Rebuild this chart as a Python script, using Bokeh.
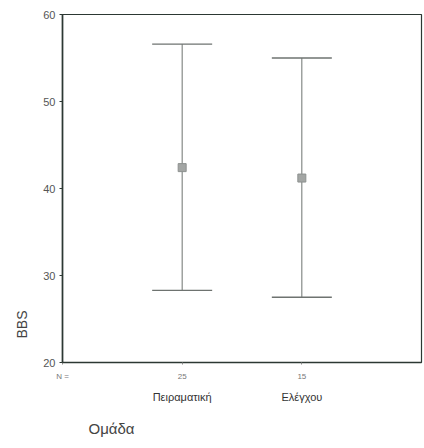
from bokeh.plotting import figure
from bokeh.models import (ColumnDataSource, Whisker, TeeHead, FixedTicker, LinearAxis,
                          Title, Range1d)
from bokeh.embed import file_html
from bokeh.resources import INLINE

# Data
groups = ["Πειραματική", "Ελέγχου"]
group_pos = [1, 2]
n_counts = ["25", "15"]
means = [42.4, 41.2]
lower = [28.3, 27.5]
upper = [56.6, 55.0]
y_ticks = [20, 30, 40, 50, 60]

FONT = "Liberation Sans"
LINE = "#6e7370"
DARK = "#2c3833"

p = figure(width=424, height=448, output_backend="svg", toolbar_location=None,
           x_range=Range1d(0, 3), y_range=Range1d(20, 60),
           min_border_left=62, min_border_right=3, min_border_top=14, min_border_bottom=86)
p.grid.visible = False
p.background_fill_color = "white"
p.border_fill_color = "white"
p.outline_line_color = DARK
p.outline_line_width = 1.2

src = ColumnDataSource(dict(x=group_pos, mean=means, lo=lower, hi=upper))

w = Whisker(base="x", lower="lo", upper="hi", source=src, dimension="height",
            line_color=LINE, line_width=1,
            upper_head=TeeHead(size=60, line_color=LINE, line_width=1.3),
            lower_head=TeeHead(size=60, line_color=LINE, line_width=1.3))
p.add_layout(w)

p.scatter(x="x", y="mean", source=src, marker="square", size=8,
          fill_color="#a3a6a4", line_color="#8d918f", line_width=1)

# y axis
yax = p.yaxis[0]
yax.ticker = FixedTicker(ticks=y_ticks)
yax.axis_line_color = DARK
yax.axis_line_width = 1.6
yax.major_tick_line_color = DARK
yax.major_tick_out = 3
yax.major_tick_in = 0
yax.minor_tick_line_color = None
yax.major_label_text_font = FONT
yax.major_label_text_font_size = "11px"
yax.major_label_text_color = "#555555"
yax.major_label_standoff = 4

# x axis: N row
xax = p.xaxis[0]
xax.ticker = FixedTicker(ticks=[0] + group_pos)
xax.major_label_overrides = {0: "N =", 1: n_counts[0], 2: n_counts[1]}
xax.axis_line_color = DARK
xax.axis_line_width = 1.4
xax.major_tick_line_color = "#888888"
xax.major_tick_out = 2
xax.major_tick_in = 0
xax.minor_tick_line_color = None
xax.major_label_text_font = FONT
xax.major_label_text_font_size = "8px"
xax.major_label_text_color = "#777777"
xax.major_label_standoff = 7

# second x axis: group names
xax2 = LinearAxis(ticker=FixedTicker(ticks=group_pos),
                  major_label_overrides={group_pos[i]: groups[i] for i in range(2)})
xax2.axis_line_color = None
xax2.major_tick_line_color = None
xax2.minor_tick_line_color = None
xax2.major_label_text_font = FONT
xax2.major_label_text_font_size = "11px"
xax2.major_label_text_color = "#333333"
xax2.major_label_standoff = 1
p.add_layout(xax2, "below")

# axis titles
p.add_layout(Title(text="BBS", align="left", offset=24, text_font=FONT,
                   text_font_size="14px", text_color="#444444",
                   text_font_style="normal", standoff=21), "left")
p.add_layout(Title(text="Ομάδα", align="left", offset=26, text_font=FONT,
                   text_font_size="15px", text_color="#444444",
                   text_font_style="normal", standoff=24), "below")

open("out.html", "w").write(file_html(p, INLINE))
